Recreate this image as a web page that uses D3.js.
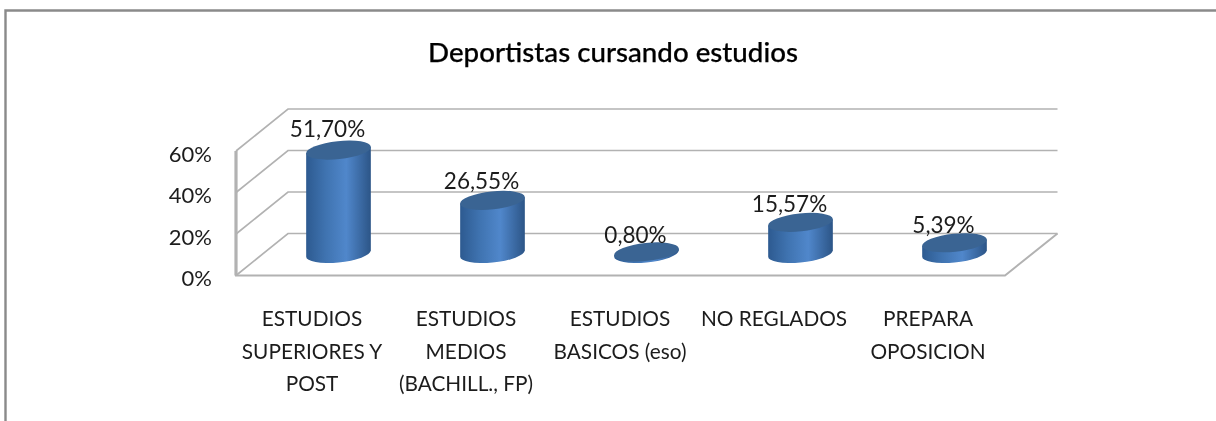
<!DOCTYPE html>
<html>
<head>
<meta charset="utf-8">
<script src="https://cdn.jsdelivr.net/npm/d3@7"></script>
<style>
  html, body { margin: 0; background: #fff; }
  svg { display: block; filter: blur(0.45px); }
  text { font-family: Lato, "Open Sans", sans-serif; fill: #1c1c1c; }
</style>
</head>
<body>
<div id="chart"></div>
<script>
// data
var categories = [
  ["ESTUDIOS", "SUPERIORES Y", "POST"],
  ["ESTUDIOS", "MEDIOS", "(BACHILL., FP)"],
  ["ESTUDIOS", "BASICOS (eso)"],
  ["NO REGLADOS"],
  ["PREPARA", "OPOSICION"]
];
var values = [51.70, 26.55, 0.80, 15.57, 5.39];
var valueLabels = ["51,70%", "26,55%", "0,80%", "15,57%", "5,39%"];
var yTicks = [0, 20, 40, 60];

var width = 1216,
    height = 421,
    depthX = 53,
    depthY = 42,
    gridColor = "#b2b2b2",
    rx = 32.5,
    ry = 9,
    tilt = -6;

var svg = d3.select("#chart").append("svg")
    .attr("width", width)
    .attr("height", height);

// horizontal gradient of the cylinders
var grad = svg.append("defs").append("linearGradient").attr("id", "cyl");
grad.append("stop").attr("offset", "0%").attr("stop-color", "#2d5a90");
grad.append("stop").attr("offset", "30%").attr("stop-color", "#3f73b0");
grad.append("stop").attr("offset", "62%").attr("stop-color", "#5087cb");
grad.append("stop").attr("offset", "100%").attr("stop-color", "#2c5587");

// picture frame, cut by the bottom and right edges
svg.append("path")
    .attr("d", "M5.5,421V10.5H1216")
    .attr("fill", "none")
    .attr("stroke", "#8a8a8a")
    .attr("stroke-width", 2.4);

svg.append("text")
    .attr("x", 613)
    .attr("y", 62)
    .attr("text-anchor", "middle")
    .attr("font-size", 27.7)
    .attr("font-weight", 500)
    .style("fill", "#000")
    .style("stroke", "#000")
    .style("stroke-width", 0.25)
    .text("Deportistas cursando estudios");

// scales: front plane of the box, the bars stand half way into it
var yFront = d3.scaleLinear().domain([0, 60]).range([275.5, 151]);
var xFront = d3.scaleBand().domain(d3.range(values.length)).range([235, 1005]);
var xBar = d3.scaleBand().domain(d3.range(values.length)).range([261.5, 1031.5]);
var yBar = d3.scaleLinear().domain([0, 60]).range([253.5, 133.5]);
var yLabel = d3.scaleLinear().domain([0, 60]).range([244.4, 119.4]);

// Walls
// =====
var walls = svg.append("g")
    .attr("fill", "none")
    .attr("stroke", gridColor)
    .attr("stroke-width", 1.7);

walls.selectAll("path.grid")
    .data(yTicks)
    .enter().append("path")
    .attr("class", "grid")
    .attr("d", function(d) {
      var y = yFront(d);
      return "M236," + y + "L" + (235 + depthX) + "," + (y - depthY) + "H1057.5";
    });

walls.append("path")
    .attr("d", "M235," + yFront(0) + "H1005L1057.5," + (yFront(0) - depthY))
    .attr("stroke-width", 2);

walls.append("path")
    .attr("d", "M236," + yFront(60) + "V" + yFront(0))
    .attr("stroke-width", 3.2);

// Axes
// ====
var yAxis = svg.append("g")
    .attr("transform", "translate(226,0)")
    .call(d3.axisLeft(yFront).tickValues(yTicks).tickSize(0).tickFormat(function(d) { return d + "%"; }));
yAxis.select(".domain").remove();
yAxis.selectAll("text")
    .attr("x", -14)
    .attr("dy", "0.46em")
    .attr("font-size", 22)
    .attr("font-family", null);

var xAxis = svg.append("g")
    .attr("transform", "translate(0,300)")
    .call(d3.axisBottom(xFront).tickSize(0).tickFormat(""));
xAxis.select(".domain").remove();
xAxis.selectAll("text")
    .attr("font-family", null)
    .attr("font-size", 20.8)
    .attr("y", 0)
    .attr("dy", null)
    .each(function(i) {
      var t = d3.select(this);
      categories[i].forEach(function(line, j) {
        t.append("tspan")
          .attr("x", 0)
          .attr("y", 26 + j * 32.7)
          .text(line);
      });
    });

// Bars
// ====
var rad = tilt * Math.PI / 180;
var extent = Math.sqrt(rx * rx * Math.cos(rad) * Math.cos(rad) + ry * ry * Math.sin(rad) * Math.sin(rad));
var tangent = (rx * rx - ry * ry) * Math.sin(rad) * Math.cos(rad) / extent;

var bars = svg.selectAll("g.bar")
    .data(values)
    .enter().append("g")
    .attr("class", "bar")
    .attr("transform", function(d, i) {
      return "translate(" + (xBar(i) + xBar.bandwidth() / 2) + ",0)";
    });

// side of the cylinder, closed below by half of the base ellipse
bars.append("path")
    .attr("fill", "url(#cyl)")
    .attr("d", function(d) {
      var top = yBar(d), base = yBar(0);
      return "M" + (-extent) + "," + (top - tangent) +
        "L" + extent + "," + (top + tangent) +
        "L" + extent + "," + (base + tangent) +
        "A" + rx + "," + ry + " " + tilt + " 0 1 " + (-extent) + "," + (base - tangent) + "Z";
    });

bars.append("ellipse")
    .attr("rx", rx)
    .attr("ry", ry)
    .attr("fill", "#3a6493")
    .attr("transform", function(d) {
      return "translate(0," + yBar(d) + ") rotate(" + tilt + ")";
    });

bars.append("text")
    .attr("x", -11)
    .attr("y", function(d) { return yLabel(d); })
    .attr("text-anchor", "middle")
    .attr("font-size", 22.5)
    .text(function(d, i) { return valueLabels[i]; });
</script>
</body>
</html>
